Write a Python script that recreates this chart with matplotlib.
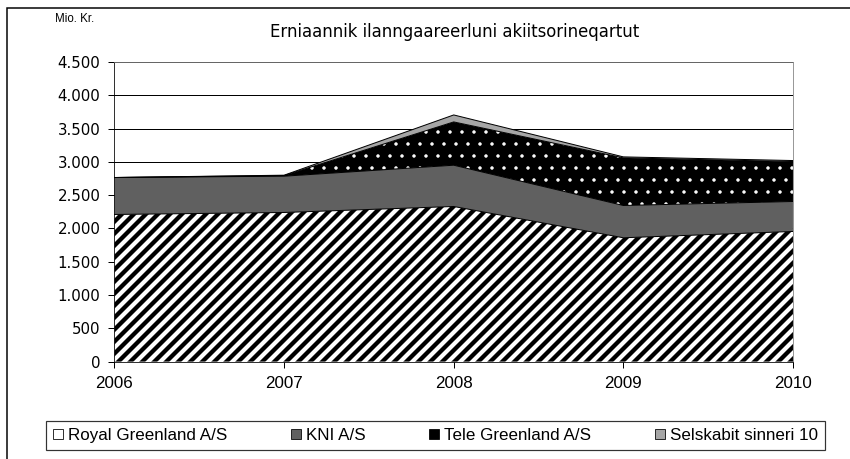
import matplotlib
matplotlib.use("Agg")
import matplotlib.pyplot as plt
import matplotlib.ticker as mticker
from matplotlib.patches import Patch, Rectangle

years = [2006, 2007, 2008, 2009, 2010]
royal = [2210, 2240, 2330, 1860, 1955]
kni = [555, 545, 620, 485, 450]
tele = [0, 10, 650, 715, 600]
selsk = [0, 5, 105, 15, 15]

labels = ["Royal Greenland A/S", "KNI A/S", "Tele Greenland A/S", "Selskabit sinneri 10"]
yticks = [0, 500, 1000, 1500, 2000, 2500, 3000, 3500, 4000, 4500]

narrow = ["Liberation Sans Narrow", "Liberation Sans", "DejaVu Sans"]

plt.rcParams["hatch.linewidth"] = 4.3
fig = plt.figure(figsize=(850 / 72, 459 / 72), dpi=72)
ax = fig.add_axes([0.1347, 0.2122, 0.9329 - 0.1347, 0.8649 - 0.2122])

# cumulative levels
c1 = royal
c2 = [a + b for a, b in zip(c1, kni)]
c3 = [a + b for a, b in zip(c2, tele)]
c4 = [a + b for a, b in zip(c3, selsk)]
base = [0] * len(years)

ax.fill_between(years, base, c1, facecolor="white", edgecolor="black", hatch="//", linewidth=0, zorder=2)
ax.fill_between(years, c1, c2, facecolor="#606060", linewidth=0, zorder=2)
plt.rcParams["hatch.linewidth"] = 1.0
ax.fill_between(years, c2, c3, facecolor="black", edgecolor="white", hatch=".", linewidth=0, zorder=2)
ax.fill_between(years, c3, c4, facecolor="#a6a6a6", linewidth=0, zorder=2)
for c in (c1, c2, c3, c4):
    ax.plot(years, c, color="black", lw=1.0, zorder=3)

ax.set_xlim(2006, 2010)
ax.set_ylim(0, 4500)
ax.set_xticks(years)
ax.set_yticks(yticks)
ax.yaxis.set_major_formatter(mticker.FuncFormatter(lambda v, p: f"{int(v):,}".replace(",", ".")))
ax.grid(axis="y", color="black", lw=1.0, zorder=0)
ax.set_axisbelow(True)
for s in ("top", "right"):
    ax.spines[s].set_color("#808080")
for s in ("left", "bottom"):
    ax.spines[s].set_color("black")
ax.tick_params(axis="both", direction="out", length=6, width=1, color="black")
ax.tick_params(axis="y", pad=8)
ax.tick_params(axis="x", pad=8)
for t in ax.get_yticklabels():
    t.set_fontfamily("DejaVu Sans")
    t.set_fontsize(15)
for t in ax.get_xticklabels():
    t.set_fontfamily(narrow)
    t.set_fontsize(17)

fig.text(0.535, 0.930, "Erniaannik ilanngaareerluni akiitsorineqartut", ha="center", va="center",
         fontsize=16.5, family="DejaVu Sans")
fig.text(0.065, 0.958, "Mio. Kr.", ha="left", va="center", fontsize=11.5, family="Liberation Sans")

handles = [Patch(facecolor="white", edgecolor="black", lw=0.8),
           Patch(facecolor="#606060", edgecolor="black", lw=0.8),
           Patch(facecolor="black", edgecolor="black", lw=0.8),
           Patch(facecolor="#a6a6a6", edgecolor="black", lw=0.8)]
leg = fig.legend(handles, labels, ncol=4, loc="center",
                 bbox_to_anchor=(46 / 850, 1 - 452 / 459, (825 - 46) / 850, 33 / 459),
                 mode="expand", frameon=True, fancybox=False, edgecolor="black",
                 handlelength=0.6, handleheight=0.6, handletextpad=0.3, borderpad=0.4,
                 prop={"family": narrow, "size": 17}, borderaxespad=0)
leg.get_frame().set_linewidth(1.2)

fig.patches.append(Rectangle((7 / 850, -0.05), 1.2, 1 - 8 / 459 + 0.05, transform=fig.transFigure,
                             fill=False, edgecolor="black", lw=1.5))

fig.savefig("out.png", dpi=72)
